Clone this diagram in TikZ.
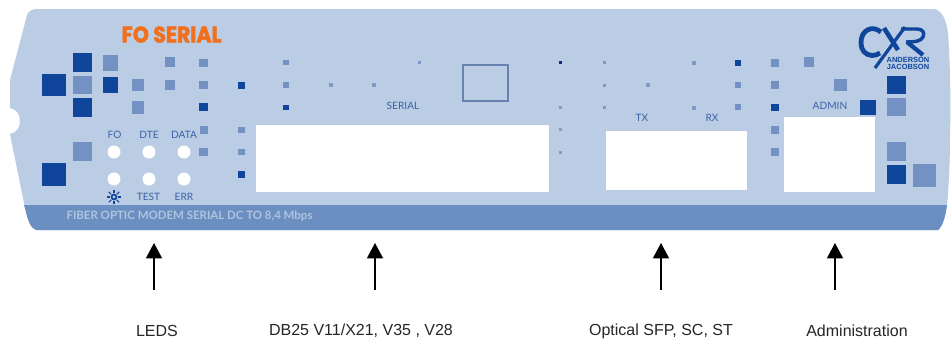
\documentclass[tikz,border=0pt]{standalone}
\usepackage{fontspec}
\setmainfont{Liberation Sans}
\newfontfamily\panelfont{Lato}
\newfontfamily\titlefont[BoldFeatures={FakeBold=2.5}]{Poppins}
\usetikzlibrary{arrows.meta}
\definecolor{panel}{HTML}{BBCDE4}
\definecolor{band}{HTML}{6C8FC2}
\definecolor{dk}{HTML}{0F459A}
\definecolor{md}{HTML}{7391C3}
\definecolor{sm}{HTML}{8299C6}
\definecolor{ink}{HTML}{3A62A6}
\definecolor{orng}{HTML}{F0701E}
\tikzset{
 panellabel/.style={font=\panelfont\fontsize{7.6pt}{8pt}\selectfont,text=ink,inner sep=0pt},
 caption/.style={font=\fontsize{12pt}{14pt}\selectfont,text=black!85,inner sep=0pt},
 pointer/.style={line width=1.1pt,-{Triangle[length=11.5pt,width=12pt]}},
 hole/.style={fill=white},
 logostroke/.style={draw=dk,line cap=butt,line join=round},
}
\begin{document}
\begin{tikzpicture}[x=0.75pt,y=-0.75pt]
\useasboundingbox (0,0) rectangle (951,340);
\fill[white] (0,0) rectangle (951,340);
% panel
\fill[panel] (35,9) -- (934,9) .. controls (941,10) and (946,18) .. (948,33)
  .. controls (950,60) and (951,100) .. (950,135) .. controls (950,170) and (948,195) .. (947,205)
  .. controls (945.5,216) and (943,226) .. (938,230) -- (36,230)
  .. controls (31,228) and (28,222) .. (25,208) -- (10,134)
  .. controls (17,133) and (20,127) .. (20,121) .. controls (20,114) and (16,109) .. (10,108)
  -- (10,80) -- (27,15) .. controls (28,12) and (31,10) .. (35,9) -- cycle;
\fill[band] (24,205) -- (947,205) .. controls (945.5,216) and (943,226) .. (938,230) -- (36,230)
  .. controls (31,228) and (28,222) .. (25,208) -- (24,205) -- cycle;
% dark squares
\foreach \a/\b/\c/\d in {42/74/66/96,73/53/92/72,73/98/92/117,103/77/118/93,199/103/208/111,238/82/245/89,238/171/245/178,283/105/289/110,42/163/66/186,735/60/741/66,771/104/779/111,860/100/876/115,887/76/906/94,887/165/906/184}
  \fill[dk] (\a,\b) rectangle (\c,\d);
% mid squares
\foreach \a/\b/\c/\d in {73/76/92/94,103/55/118/71,132/79/144/91,132/101/144/114,165/57/175/67,165/80/175/90,199/59/208/67,199/81/208/89,200/126/208/134,199/148/208/156,238/127/245/133,238/149/245/155,283/60/289/65,283/82/289/88,73/142/92/161,735/82/741/88,735/104/741/110,771/59/779/67,771/81/779/89,771/126/779/134,771/148/779/156,804/57/814/67,834/79/847/91,887/98/906/116,887/142/906/161,913/164/936/187}
  \fill[md] (\a,\b) rectangle (\c,\d);
% small dots
\foreach \x/\y in {331/85,374/85,648/85,693.5/62.5,693.5/107.5}
  \fill[sm] (\x-2,\y-2) rectangle (\x+2,\y+2);
\foreach \x/\y in {419/62,604/62,604/85,604/107,560/107,560/129,560/152}
  \fill[sm] (\x-1.5,\y-1.5) rectangle (\x+1.5,\y+1.5);
\fill[dk!70!black] (558.5,60.5) rectangle (561.5,63.5);
% windows
\fill[hole] (256,125) rectangle (549,192);
\fill[hole] (606,131) rectangle (747,190);
\fill[hole] (784,117) rectangle (875,192);
\draw[draw=md!90!black,line width=0.8pt] (463,65) rectangle (508,101);
% LEDs
\foreach \x in {114,149,184} \foreach \y in {152,179}
  \fill[white] (\x,\y) circle[radius=6.5];
% labels
\node[panellabel] (lfo) at (114.5,135) {FO};
\node[panellabel] (ldte) at (149,135) {DTE};
\node[panellabel] (ldata) at (184,135) {DATA};
\node[panellabel] (ltest) at (148.5,197) {TEST};
\node[panellabel] (lerr) at (184,197) {ERR};
\node[panellabel] (lser) at (403,106) {SERIAL};
\node[panellabel] (ltx) at (642,118) {TX};
\node[panellabel] (lrx) at (712,118) {RX};
\node[panellabel] (ladm) at (830,106) {ADMIN};
% sun symbol
\fill[dk] (114,197) circle[radius=3.4];
\fill[panel] (114,197) circle[radius=1.7];
\foreach \r in {0,45,...,315}
  \draw[dk,line width=0.8pt] (114,197) ++(\r:4) -- ++(\r:3.3);
% titles
\node[inner sep=0pt,text=orng] (title) at (171.5,34.5)
  {\scalebox{1.0}[1.1]{\titlefont\bfseries\fontsize{15.4pt}{16pt}\selectfont FO SERIAL}};
\node[inner sep=0pt,text=panel!85!band] (strap) at (189.5,216.5)
  {\panelfont\bfseries\fontsize{8.6pt}{9pt}\selectfont FIBER OPTIC MODEM SERIAL DC TO 8,4 Mbps};
% logo
\draw[logostroke,line width=3.6pt] (881,32) .. controls (877,29) and (873,28) .. (870,29)
  .. controls (863,31) and (861,37) .. (861,43) .. controls (861,50) and (865,55) .. (872,55.5)
  .. controls (875,55.5) and (878,54.5) .. (880,53);
\draw[logostroke,line width=2.4pt] (875,68) -- (905,27);
\draw[logostroke,line width=3.4pt] (884,28) -- (898,50);
\draw[logostroke,line width=2.6pt] (901,29) -- (917,29) .. controls (923,29) and (925,33) .. (923,37)
  .. controls (921,41) and (916,42) .. (906,42);
\draw[logostroke,line width=3.2pt] (907,42) -- (923,55);
\node[inner sep=0pt,text=dk,align=center,font=\bfseries\fontsize{5.6pt}{5.2pt}\selectfont] (aj) at (908,63.5)
  {ANDERSON\\JACOBSON};
% captions
\node[caption] (c1) at (157,331) {LEDS};
\node[caption] (c2) at (361,331) {DB25 V11/X21, V35 , V28};
\node[caption] (c3) at (661,331) {Optical SFP, SC, ST};
\node[caption] (c4) at (857,331) {Administration};
% arrows
\foreach \n/\x in {a/154,b/375,c/661,d/835}{
  \coordinate (\n s) at (\x,290);
  \coordinate (\n t) at (\x,243);
  \draw[pointer] (\n s) -- (\n t);
}
\end{tikzpicture}
\end{document}
